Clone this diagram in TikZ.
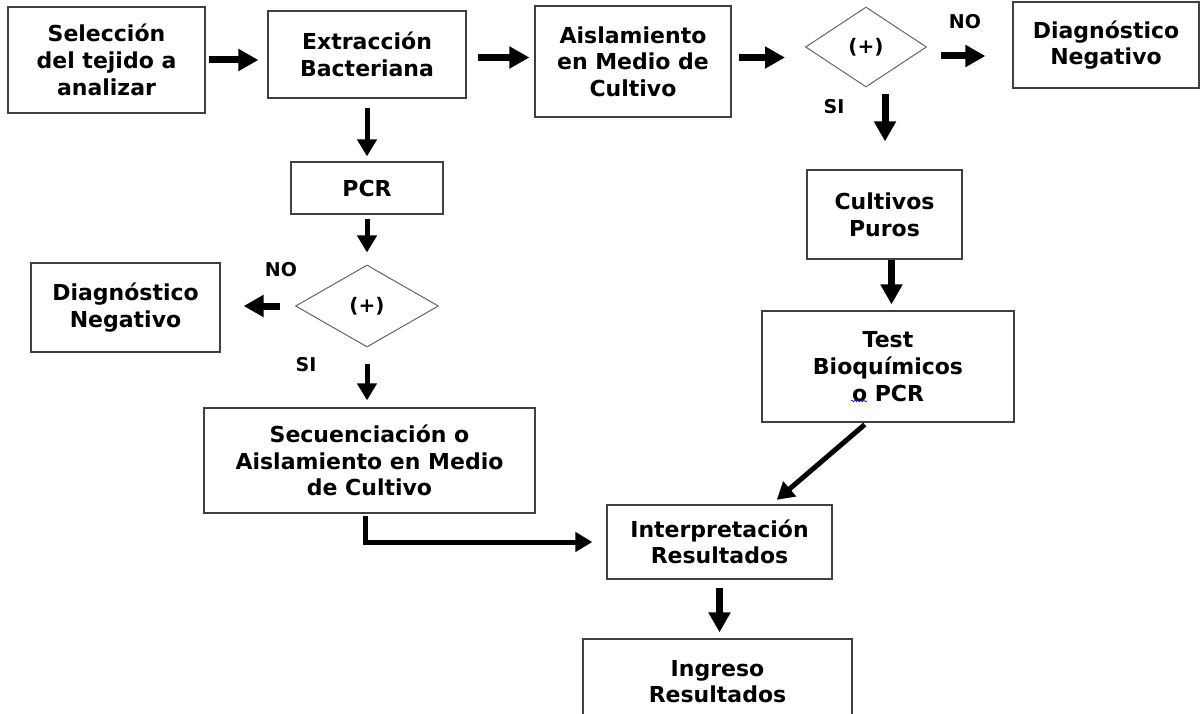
\documentclass[tikz,border=0pt]{standalone}
\usepackage{fontspec}
\setmainfont{DejaVu Sans}
\usetikzlibrary{arrows.meta,decorations.pathmorphing,positioning,shapes.geometric}

\begin{document}
\begin{tikzpicture}
    [
      x=1pt, y=-1pt,
      box/.style={draw=black!75, line width=1.2pt, align=center, inner sep=0pt,
        font=\bfseries\fontsize{22}{26.7}\selectfont},
      decision/.style={diamond, draw=black!60, line width=1pt, inner sep=0pt,
        minimum width=121pt, minimum height=80pt, font=\bfseries\fontsize{20}{24}\selectfont},
      answer/.style={inner sep=0pt, font=\bfseries\fontsize{19}{22}\selectfont},
      post/.style={-{Triangle[length=20pt,width=21pt]}, line width=7pt},
      thinpost/.style={-{Triangle[length=17pt,width=19pt]}, line width=5pt},
    ]

    \useasboundingbox (0,0) rectangle (1200,714);

    \node (sel) [box, minimum width=197pt, minimum height=106pt] at (106.5,60)
      {Selección\\del tejido a\\analizar};

    \node (extr) [box, minimum width=198pt, minimum height=87pt] at (367,54.5)
      {Extracción\\Bacteriana};

    \node (aisl) [box, minimum width=196pt, minimum height=111pt] at (633,61.5)
      {Aislamiento\\en Medio de\\Cultivo};

    \node (dec-cult) [decision] at (866,47) {(+)};

    \node (neg-cult) [box, minimum width=186pt, minimum height=86pt] at (1106,45)
      {Diagnóstico\\Negativo};

    \node (pcr) [box, minimum width=152pt, minimum height=52pt] at (367,188) {PCR};

    \node (dec-pcr) [decision, minimum width=143pt, minimum height=82pt] at (367,306) {(+)};

    \node (neg-pcr) [box, minimum width=189pt, minimum height=89pt] at (125.5,307.5)
      {Diagnóstico\\Negativo};

    \node (sec) [box, minimum width=331pt, minimum height=105pt] at (369.5,460.5)
      {Secuenciación o\\Aislamiento en Medio\\de Cultivo};

    \node (cult) [box, minimum width=155pt, minimum height=89pt] at (884.5,214.5)
      {Cultivos\\Puros};

    \node (test) [box, minimum width=252pt, minimum height=111pt] at (888,366.5)
      {Test\\Bioquímicos\\o PCR};

    \node (interp) [box, minimum width=225pt, minimum height=74pt] at (719.5,542)
      {Interpretación\\Resultados};

    \node (ingr) [box, minimum width=269pt, minimum height=85pt] at (717.5,681.5)
      {Ingreso\\Resultados};

    % si / no
    \node (no-cult) [answer] at (965,22) {NO};
    \node (si-cult) [answer] at (834,107) {SI};
    \node (no-pcr) [answer] at (281,270) {NO};
    \node (si-pcr) [answer] at (306,365) {SI};

    % spell check mark
    \draw [blue, line width=0.6pt, decorate, decoration={snake, amplitude=0.8pt, segment length=3pt}]
      (851,401) -- (867,401);

    \path
    (sel.east) edge [post, shorten <=3pt, shorten >=9pt] (sel.east -| extr.west)
    ([yshift=-3pt]extr.east) edge [post, shorten <=11pt, shorten >=5pt] ([yshift=-3pt]extr.east -| aisl.west)
    ([yshift=4pt]aisl.east) edge [post, shorten <=7pt, shorten >=20pt] ([yshift=4pt]aisl.east -| dec-cult.west)
    ([yshift=-9pt]dec-cult.east) edge [post, shorten <=14pt, shorten >=27pt] ([yshift=-9pt]dec-cult.east -| neg-cult.west)
    ([xshift=19pt]dec-cult.south) edge [post, shorten <=7pt, shorten >=28pt] ([xshift=19pt]dec-cult.south |- cult.north)
    ([xshift=7pt]cult.south) edge [post, shorten >=6pt] ([xshift=7pt]cult.south |- test.north)
    ([xshift=-21pt]test.south) edge [thinpost, shorten <=3pt, shorten >=7pt] ([xshift=52pt]interp.north)
    (interp.south) edge [post, shorten <=8pt, shorten >=6pt] (interp.south |- ingr.north)

    (extr.south) edge [thinpost, shorten <=9pt, shorten >=5pt] (pcr.north)
    (pcr.south) edge [thinpost, shorten <=4pt, shorten >=12pt] (dec-pcr.north)
    (dec-pcr.west) edge [post, shorten <=15pt, shorten >=23pt] (dec-pcr.west -| neg-pcr.east)
    (dec-pcr.south) edge [thinpost, shorten <=16pt, shorten >=7pt] (dec-pcr.south |- sec.north)
    ;

    \draw [thinpost, shorten <=2pt, shorten >=14pt] ([xshift=-4pt]sec.south) |- (interp.west);

  \end{tikzpicture}
\end{document}
